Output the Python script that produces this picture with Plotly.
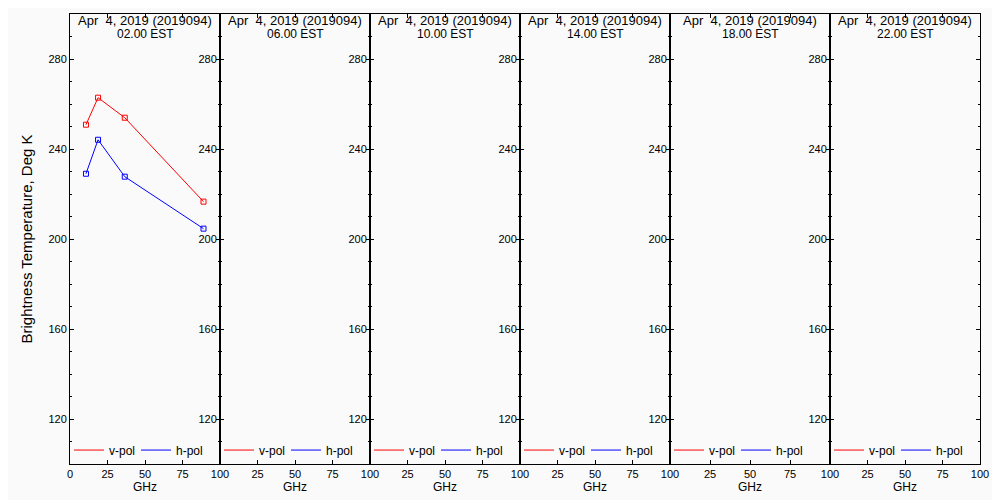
import plotly.graph_objects as go

freqs = [10.65, 18.7, 36.5, 89.0]
vpol_02 = [250.8, 262.8, 253.9, 216.6]
hpol_02 = [229.0, 244.1, 227.7, 204.6]

date_label = "Apr \u00a04, 2019 (2019094)"
hours = ["02.00 EST", "06.00 EST", "10.00 EST", "14.00 EST", "18.00 EST", "22.00 EST"]
panel_data = [(vpol_02, hpol_02), None, None, None, None, None]

series_names = ["v-pol", "h-pol"]
series_colors = ["#ff0000", "#0000ff"]

y_ticks = [120, 160, 200, 240, 280]
x_ticks_first = [0, 25, 50, 75, 100]
x_ticks_rest = [25, 50, 75, 100]

FONT = "Liberation Sans"
edges_px = [0, 150, 300, 450, 600, 760, 910]
W = 910.0
domains = [[edges_px[i] / W, edges_px[i + 1] / W] for i in range(6)]

fig = go.Figure()

for i in range(6):
    n = "" if i == 0 else str(i + 1)
    xa = "x" + n
    ya = "y" + n
    leg = "legend" + n
    d = panel_data[i]
    if d is not None:
        for name, col, ys in zip(series_names, series_colors, d):
            fig.add_trace(go.Scatter(x=freqs, y=ys, name=name, mode="lines+markers",
                                     line=dict(color=col, width=1),
                                     marker=dict(symbol="square-open", size=5, color=col, line=dict(width=1)),
                                     xaxis=xa, yaxis=ya, showlegend=False))
    # legend entries (line only)
    for name, col in zip(series_names, series_colors):
        fig.add_trace(go.Scatter(x=[None], y=[None], name=name, mode="lines",
                                 line=dict(color=col, width=1),
                                 xaxis=xa, yaxis=ya, legend=leg, showlegend=True))

    axis_common = dict(showline=True, linecolor="black", linewidth=1, mirror="allticks",
                       ticks="inside", tickcolor="black", ticklen=4, tickwidth=1,
                       showgrid=False, zeroline=False, automargin=False,
                       tickfont=dict(family=FONT, size=11, color="black"))
    fig.update_layout({
        "xaxis" + n: dict(domain=domains[i], range=[0, 100], anchor=ya,
                          tickvals=x_ticks_first if i == 0 else x_ticks_rest,
                          title=dict(text="GHz", font=dict(family=FONT, size=12, color="black"), standoff=0),
                          **axis_common),
        "yaxis" + n: dict(domain=[0, 1], range=[100, 300], anchor=xa,
                          tickvals=y_ticks,
                          minor=dict(dtick=10, tick0=0, ticks="inside", ticklen=2, tickcolor="black", tickwidth=1),
                          title=dict(text="Brightness Temperature, Deg K" if i == 0 else "",
                                     font=dict(family=FONT, size=15, color="black"), standoff=12),
                          **axis_common),
        leg: dict(orientation="h", x=domains[i][0] - 1 / W, y=0.031, xanchor="left", yanchor="middle",
                  bgcolor="rgba(0,0,0,0)", font=dict(family=FONT, size=12, color="black"),
                  entrywidth=22, entrywidthmode="pixels", itemclick=False),
    })
    fig.add_annotation(x=0.5, y=1, xref=xa + " domain", yref=ya + " domain",
                       xanchor="center", yanchor="middle", yshift=-6, showarrow=False,
                       text=date_label, font=dict(family=FONT, size=13, color="black"))
    fig.add_annotation(x=0.5, y=1, xref=xa + " domain", yref=ya + " domain",
                       xanchor="center", yanchor="middle", yshift=-20, showarrow=False,
                       text=hours[i], font=dict(family=FONT, size=12, color="black"))

# page body has an 8px offset; margins compensate so the plot area sits at
# x 70..980, y 14..464 in the window
fig.update_layout(width=1000, height=500,
                  margin=dict(l=62, r=28, t=6, b=44),
                  paper_bgcolor="#fafafa", plot_bgcolor="#fafafa",
                  showlegend=True)

fig.write_html("out.html")
